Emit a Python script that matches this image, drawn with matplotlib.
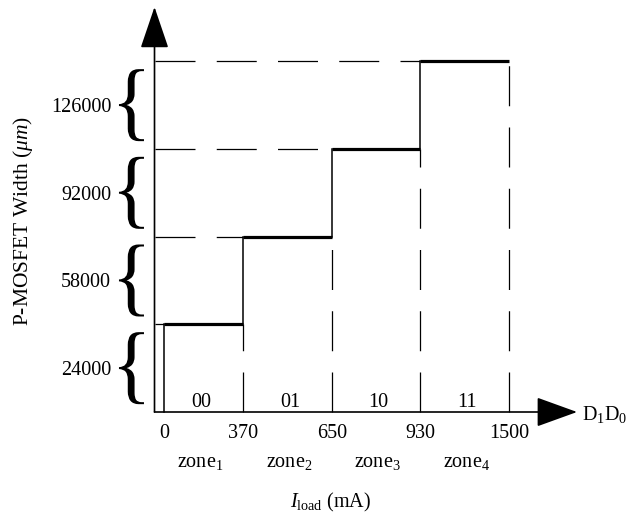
import matplotlib
matplotlib.use("Agg")
import matplotlib.pyplot as plt
import matplotlib.transforms as mtransforms
from matplotlib.textpath import TextPath
from matplotlib.font_manager import FontProperties
from matplotlib.patches import PathPatch

plt.rcParams['font.family'] = ['Liberation Serif', 'DejaVu Serif']
plt.rcParams['mathtext.fontset'] = 'custom'
plt.rcParams['mathtext.rm'] = 'Liberation Serif'
plt.rcParams['mathtext.it'] = 'Liberation Serif:italic'

# ---- data ----
current_ticks = ["0", "370", "650", "930", "1500"]        # I_load boundaries (mA)
zone_names = ["zone$_1$", "zone$_2$", "zone$_3$", "zone$_4$"]
zone_codes = ["00", "01", "10", "11"]                       # D1D0 codes
step_levels = [41000, 75000, 109000, 143000]               # P-MOSFET width step levels
width_labels = [24000, 58000, 92000, 126000]               # brace labels (um)
range_lows = [7000, 41000, 75000, 109000]
range_highs = [41000, 75000, 109000, 143000]
axis_base = 7000

# ---- layout / style ----
zero_offset = 0.11
W, H, DPI = 6.3, 5.16, 100
fig = plt.figure(figsize=(W, H), dpi=DPI)
ax = fig.add_axes([0, 0, 1, 1])
ax.set_xlim(-1.744, 5.367)
ax.set_ylim(-33331, 166774)
ax.axis('off')

FS = 14.5
bound_x = [zero_offset, 1, 2, 3, 4]
dash = (32, 17)

# axes with arrows
ytip, xtip = 164059, 4.769
ax.annotate("", xy=(0, ytip), xytext=(0, axis_base),
            arrowprops=dict(arrowstyle="-|>,head_length=26.5,head_width=9",
                            mutation_scale=1, lw=1.2, color='black',
                            shrinkA=0, shrinkB=0))
ax.annotate("", xy=(xtip, axis_base), xytext=(0, axis_base),
            arrowprops=dict(arrowstyle="-|>,head_length=26,head_width=9.4",
                            mutation_scale=1, lw=1.2, color='black',
                            shrinkA=0, shrinkB=0))

# zero-current marker line
ax.plot([zero_offset, zero_offset], [axis_base, step_levels[0]], color='black', lw=1.1)

for i in range(4):
    x0, x1 = bound_x[i], bound_x[i + 1]
    lvl = step_levels[i]
    # thick step
    ax.plot([x0, x1], [lvl, lvl], color='black', lw=2.3, solid_capstyle='butt')
    # dashed guide from y-axis
    ax.plot([0, x0], [lvl, lvl], color='black', lw=0.9, dashes=dash)
    # dashed vertical from x-axis up to the step
    ax.plot([x1, x1], [axis_base, lvl], color='black', lw=0.9, dashes=dash)
    # riser
    if i < 3:
        ax.plot([x1, x1], [lvl, step_levels[i + 1]], color='black', lw=1.1)
    # codes
    ax.text(i + 0.53, 8939, zone_codes[i], ha='center', va='baseline', fontsize=FS)
    ax.text(i + 0.52, -14329, zone_names[i], ha='center', va='baseline', fontsize=FS)

for xb, t in zip(bound_x, current_ticks):
    ax.text(xb, -3083, t, ha='center', va='baseline', fontsize=FS)

# braces
tp = TextPath((0, 0), "{", size=1, prop=FontProperties(family="Liberation Serif"))
ext = tp.get_extents()
brace_w, brace_h = 25, 72
brace_x = -0.26
for lo, hi, lab in zip(range_lows, range_highs, width_labels):
    yc = (lo + hi) / 2
    tr = (mtransforms.Affine2D()
          .translate(-(ext.x0 + ext.width / 2), -(ext.y0 + ext.height / 2))
          .scale(brace_w / ext.width, brace_h / ext.height)
          + mtransforms.ScaledTranslation(brace_x, yc, ax.transData))
    ax.add_patch(PathPatch(tp, transform=tr, facecolor='black', edgecolor='none'))
    ax.text(-0.49, lab, f"{lab}", ha='right', va='center_baseline', fontsize=FS)

# labels
ax.text(4.83, axis_base, "D$_1$D$_0$", ha='left', va='center_baseline', fontsize=FS)
ax.text(1.99, -29841, r"$I_{\rm load}$ (mA)", ha='center', va='baseline', fontsize=FS)
ax.text(-1.49, 81070, r"P-MOSFET Width ($\mu m$)", rotation=90,
        ha='center', va='center', fontsize=15.5)

fig.savefig("out.png", dpi=DPI)
